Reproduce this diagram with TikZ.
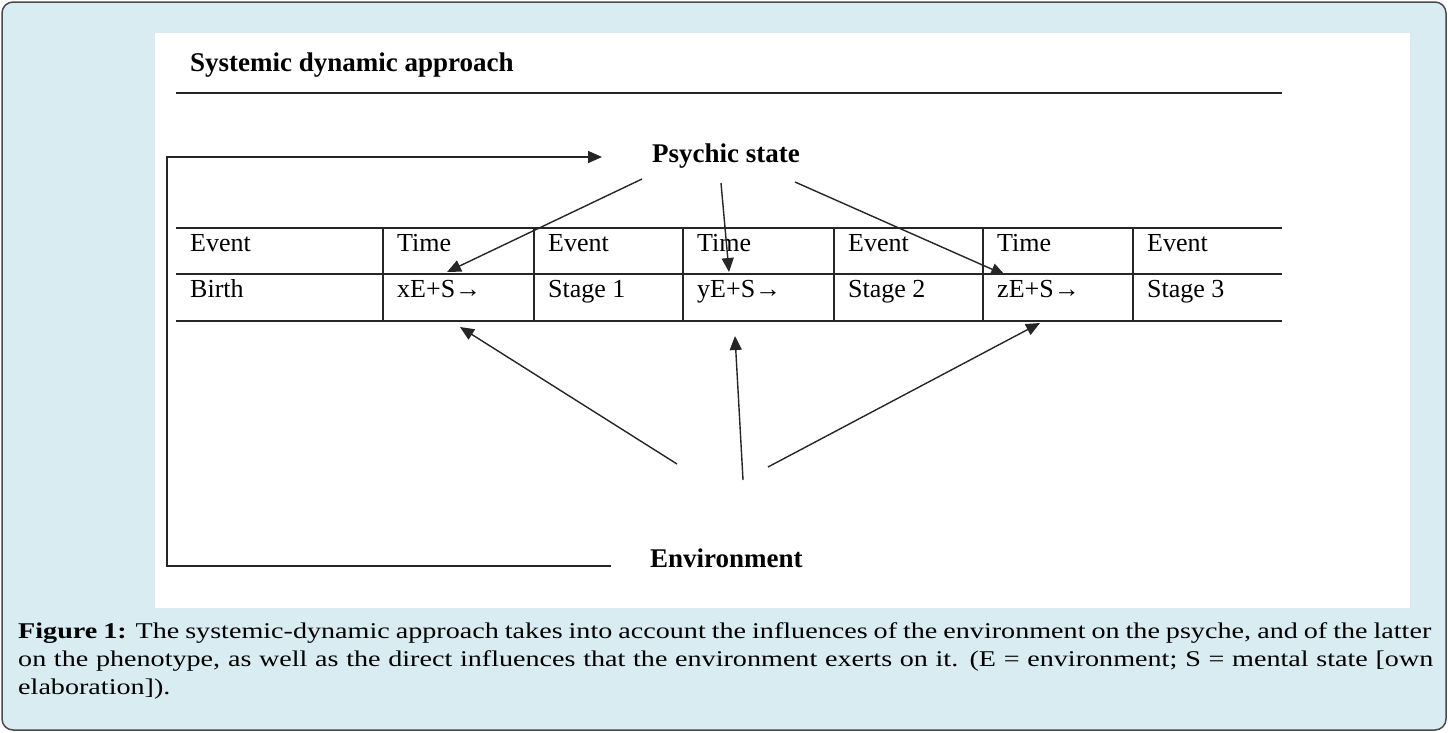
\documentclass[tikz,border=0pt]{standalone}
\usepackage{fontspec}
\setmainfont{Liberation Serif}
\newfontfamily\capfont[FakeStretch=1.25]{Liberation Serif}
\usetikzlibrary{arrows.meta}
\definecolor{framefill}{HTML}{D8ECF1}
\definecolor{framedraw}{HTML}{4A4A4A}
\tikzset{
  rule/.style={line width=1.8pt, draw=black!85},
  arr/.style={line width=1.4pt, draw=black!85, -{Triangle[length=14pt,width=12pt]}},
  cell/.style={anchor=base west, inner sep=0pt, font=\fontsize{26}{30}\selectfont},
  label/.style={anchor=base west, inner sep=0pt, font=\fontsize{27}{32}\selectfont\bfseries},
  capline/.style={anchor=base west, inner sep=0pt, font=\capfont\fontsize{22.5}{28}\selectfont}
}
\begin{document}
\begin{tikzpicture}[x=1pt,y=-1pt]
\useasboundingbox (0,0) rectangle (1448,732);
% frame
\draw[fill=framefill, draw=framedraw, line width=1.5pt, rounded corners=11pt] (2,2) rectangle (1446,730);
\fill[white] (155,33) rectangle (1410,608);
% title
\node[label] (title) at (190,71) {Systemic dynamic approach};
\draw[rule] (176,93) -- (1282,93);
% labels
\node[label] (psy) at (652,162) {Psychic state};
\node[label] (env) at (650,567) {Environment};
% table lines
\foreach \y in {228,274,321} \draw[rule] (176,\y) -- (1282,\y);
\foreach \x in {383,534,683,834,983,1133} \draw[rule] (\x,228) -- (\x,321);
% table text
\node[cell] (c11) at (190,251) {Event};
\node[cell] (c12) at (397,251) {Time};
\node[cell] (c13) at (548,251) {Event};
\node[cell] (c14) at (697,251) {Time};
\node[cell] (c15) at (848,251) {Event};
\node[cell] (c16) at (997,251) {Time};
\node[cell] (c17) at (1147,251) {Event};
\node[cell] (c21) at (190,297) {Birth};
\node[cell] (c22) at (397,297) {xE+S→};
\node[cell] (c23) at (548,297) {Stage 1};
\node[cell] (c24) at (697,297) {yE+S→};
\node[cell] (c25) at (848,297) {Stage 2};
\node[cell] (c26) at (997,297) {zE+S→};
\node[cell] (c27) at (1147,297) {Stage 3};
% feedback loop
\coordinate (loopA) at (611,566);
\coordinate (loopB) at (602,157);
\draw[rule, line width=1.6pt, -{Triangle[length=14pt,width=12pt]}] (loopA) -- (167,566) -- (167,157) -- (loopB);
% arrows from psychic state
\coordinate (p1) at (642,179); \coordinate (t1) at (447,272);
\coordinate (p2) at (721,183); \coordinate (t2) at (729,272);
\coordinate (p3) at (795,182); \coordinate (t3) at (1005,275);
\draw[arr] (p1) -- (t1);
\draw[arr] (p2) -- (t2);
\draw[arr] (p3) -- (t3);
% arrows from environment
\coordinate (e1) at (677,464); \coordinate (b1) at (460,327);
\coordinate (e2) at (743,480); \coordinate (b2) at (735,336);
\coordinate (e3) at (768,467); \coordinate (b3) at (1040,323);
\draw[arr] (e1) -- (b1);
\draw[arr] (e2) -- (b2);
\draw[arr] (e3) -- (b3);
% caption
\node[capline] (cap1) at (18,638) {\makebox[1413pt][s]{\textbf{Figure 1:} The systemic-dynamic approach takes into account the influences of the environment on the psyche, and of the latter}};
\node[capline] (cap2) at (18,666) {\makebox[1415pt][s]{on the phenotype, as well as the direct influences that the environment exerts on it. (E = environment; S = mental state [own}};
\node[capline] (cap3) at (18,694) {elaboration]).};
\end{tikzpicture}
\end{document}
